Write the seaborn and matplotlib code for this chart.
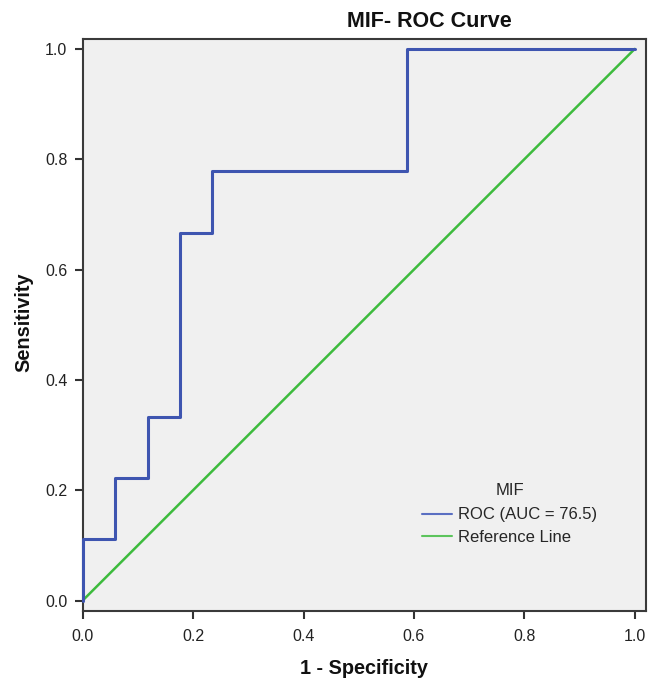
import matplotlib
matplotlib.use("Agg")
import matplotlib.pyplot as plt
import seaborn as sns
import pandas as pd
from matplotlib.lines import Line2D

# ---- data ----
roc_fpr = [0.000, 0.000, 0.059, 0.059, 0.118, 0.118, 0.176, 0.176, 0.235, 0.235, 0.588, 0.588, 1.000]
roc_tpr = [0.000, 0.111, 0.111, 0.222, 0.222, 0.333, 0.333, 0.667, 0.667, 0.778, 0.778, 1.000, 1.000]
ref_x = [0.0, 1.0]
ref_y = [0.0, 1.0]
ticks = [0.0, 0.2, 0.4, 0.6, 0.8, 1.0]
tick_labels = ["0.0", "0.2", "0.4", "0.6", "0.8", "1.0"]

sns.set_theme(style="white")
plt.rcParams["font.family"] = ["Liberation Sans", "DejaVu Sans"]

fig = plt.figure(figsize=(6.51, 6.78), dpi=100)
ax = fig.add_axes([0.127, 0.0988, 0.865, 0.8437])
ax.set_facecolor("#f0f0f0")

roc_df = pd.DataFrame({"fpr": roc_fpr, "tpr": roc_tpr})
ref_df = pd.DataFrame({"x": ref_x, "y": ref_y})

sns.lineplot(data=ref_df, x="x", y="y", ax=ax, sort=False, estimator=None,
             color="#3dbb3d", lw=1.8, zorder=3)
sns.lineplot(data=roc_df, x="fpr", y="tpr", ax=ax, sort=False, estimator=None,
             color="#3e55b0", lw=2.2, zorder=4, clip_on=False)

ax.set_xlim(0, 1.02)
ax.set_ylim(-0.019, 1.018)
ax.set_xticks(ticks)
ax.set_xticklabels(tick_labels)
ax.set_yticks(ticks)
ax.set_yticklabels(tick_labels)
ax.tick_params(axis="both", which="major", direction="out", length=6, width=1.5,
               color="#333333", labelsize=11.5, labelcolor="#222222", pad=5,
               bottom=True, left=True)
ax.tick_params(axis="x", pad=7)
for s in ax.spines.values():
    s.set_color("#3a3a3a")
    s.set_linewidth(1.5)

ax.set_xlabel("")
ax.set_ylabel("")
fig.text(0.559, 0.0147, "1 - Specificity", ha="center", va="center",
         fontsize=14.3, fontweight="bold", color="#111111")
fig.text(0.036, 0.525, "Sensitivity", ha="center", va="center", rotation=90,
         fontsize=14.3, fontweight="bold", color="#111111")
fig.text(0.66, 0.968, "MIF- ROC Curve", ha="center", va="center",
         fontsize=15.5, fontweight="bold", color="#111111")

handles = [Line2D([0], [0], color="#5a6fc2", lw=1.5),
           Line2D([0], [0], color="#5cc45c", lw=1.5)]
leg = ax.legend(handles, ["ROC (AUC = 76.5)", "Reference Line"], title="MIF",
                loc="upper left", bbox_to_anchor=(0.588, 0.239),
                frameon=False, fontsize=12, title_fontsize=12, borderpad=0,
                handlelength=1.8, handletextpad=0.35, labelspacing=0.45)
leg._legend_box.align = "center"
leg._legend_box.sep = 7

fig.savefig("out.png", dpi=100)
